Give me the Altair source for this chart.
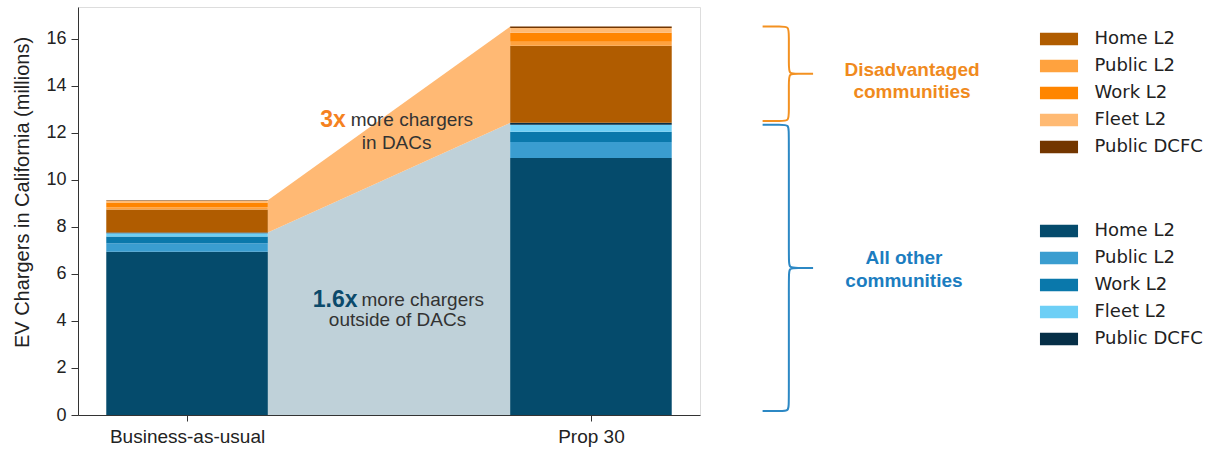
import altair as alt
import pandas as pd

# ---------------- data ----------------
scenarios = ["Business-as-usual", "Prop 30"]
types = ["Home L2", "Public L2", "Work L2", "Fleet L2", "Public DCFC"]

other_bau = [6.95, 0.36, 0.28, 0.14, 0.03]
other_p30 = [10.94, 0.68, 0.43, 0.30, 0.08]
dac_bau = [0.98, 0.10, 0.20, 0.08, 0.02]
dac_p30 = [3.28, 0.17, 0.38, 0.21, 0.06]

other_colors = ["#054b6c", "#3a9dd0", "#0a78ab", "#6dcff6", "#062f47"]
dac_colors = ["#b05c00", "#ffa23e", "#ff8500", "#ffba73", "#733600"]

BAR_W = 0.4

# ---------------- tables ----------------
other_rows, dac_rows, totals = [], [], []
for i, (ov, dv) in enumerate([(other_bau, dac_bau), (other_p30, dac_p30)]):
    cum = 0.0
    for t, v in zip(types, ov):
        other_rows.append({"pos": i, "x0": i - BAR_W / 2, "x1": i + BAR_W / 2,
                           "oth_type": t, "lo": cum, "hi": cum + v})
        cum += v
    other_total = cum
    for t, v in zip(types, dv):
        dac_rows.append({"pos": i, "x0": i - BAR_W / 2, "x1": i + BAR_W / 2,
                         "dac_type": t, "lo": cum, "hi": cum + v})
        cum += v
    totals.append((other_total, cum))

other_df = pd.DataFrame(other_rows)
dac_df = pd.DataFrame(dac_rows)

conn = pd.DataFrame({
    "x": [BAR_W / 2, 1 - BAR_W / 2],
    "zero": [0.0, 0.0],
    "oth": [totals[0][0], totals[1][0]],
    "tot": [totals[0][1], totals[1][1]],
})

# braces (right of the plot), spanning the Prop 30 bar groups
XL, XV, XT, HX, RY = 1.425, 1.49, 1.55, 0.02, 0.34


def brace(y_top, y_bot, name):
    ym = (y_top + y_bot) / 2
    pts = [(XL, y_top), (XL, y_top), (XV - HX, y_top), (XV, y_top), (XV, y_top - RY),
           (XV, ym + RY), (XV, ym), (XV + HX, ym), (XT, ym), (XT, ym), (XT, ym),
           (XV + HX, ym), (XV, ym), (XV, ym - RY), (XV, y_bot + RY), (XV, y_bot),
           (XV - HX, y_bot), (XL, y_bot), (XL, y_bot)]
    return pd.DataFrame({"x": [p[0] for p in pts], "y": [p[1] for p in pts],
                         "i": list(range(len(pts))), "g": name})


p30_other, p30_total = totals[1]
brace_dac = brace(p30_total, p30_other + 0.08, "dac")
brace_oth = brace(p30_other - 0.08, 0.17, "oth")

# ---------------- scales / axes ----------------
xscale = alt.Scale(domain=[-0.27, 1.27], nice=False, zero=False)
yscale = alt.Scale(domain=[0, 17.36], nice=False, zero=False)

AX_FONT = "Liberation Sans"
x_axis = alt.Axis(values=[0, 1], title=None, grid=False,
                  labelExpr="datum.value == 0 ? 'Business-as-usual' : 'Prop 30'",
                  tickSize=6, labelPadding=6, labelFontSize=19, labelFont=AX_FONT,
                  labelColor="#222", domainColor="#333", tickColor="#333",
                  labelOverlap=False, labelFlush=False)
y_axis = alt.Axis(values=list(range(0, 17, 2)), title="EV Chargers in California (millions)",
                  grid=False, tickSize=7, labelPadding=5, labelFontSize=18, labelFont=AX_FONT,
                  labelColor="#222", titleFont=AX_FONT, titleFontSize=20,
                  titleFontWeight="normal", titleColor="#222", domainColor="#333",
                  tickColor="#333", titleX=-56, titleY=185, titleAngle=-90,
                  titleAlign="center", titleBaseline="middle")

PATH = "M-1.41,-0.46L1.41,-0.46L1.41,0.46L-1.41,0.46Z"


def legend(ly):
    return alt.Legend(title=None, orient="none", legendX=967.5, legendY=ly,
                      symbolType=PATH, symbolSize=729, symbolStrokeWidth=0,
                      symbolOpacity=1, labelFont="DejaVu Sans", labelFontSize=18,
                      labelColor="#222", labelOffset=22, rowPadding=4, padding=0)


# ---------------- layers ----------------
area_oth = alt.Chart(conn).mark_area(color="#bfd1d9", opacity=1).encode(
    x=alt.X("x:Q", scale=xscale, axis=x_axis),
    y=alt.Y("zero:Q", scale=yscale, axis=y_axis, stack=None),
    y2="oth:Q",
)
area_dac = alt.Chart(conn).mark_area(color="#ffb974", opacity=1).encode(
    x=alt.X("x:Q", scale=xscale, axis=x_axis),
    y=alt.Y("oth:Q", scale=yscale, axis=y_axis, stack=None),
    y2="tot:Q",
)

bars_oth = alt.Chart(other_df).mark_rect().encode(
    x=alt.X("x0:Q", scale=xscale, axis=x_axis),
    x2="x1:Q",
    y=alt.Y("lo:Q", scale=yscale, axis=y_axis, stack=None),
    y2="hi:Q",
    color=alt.Color("oth_type:N", scale=alt.Scale(domain=types, range=other_colors),
                    legend=legend(210.5)),
)
bars_dac = alt.Chart(dac_df).mark_rect().encode(
    x=alt.X("x0:Q", scale=xscale, axis=x_axis),
    x2="x1:Q",
    y=alt.Y("lo:Q", scale=yscale, axis=y_axis, stack=None),
    y2="hi:Q",
    color=alt.Color("dac_type:N", scale=alt.Scale(domain=types, range=dac_colors),
                    legend=legend(18.5)),
)

# annotations
bold_df = pd.DataFrame({"x": [0.393, 0.422], "y": [12.55, 4.89], "t": ["3x", "1.6x"],
                        "c": ["#f5821f", "#0b4a6b"]})
left_df = pd.DataFrame({"x": [0.405, 0.432], "y": [12.55, 4.89],
                        "t": ["more chargers", "more chargers"]})
center_df = pd.DataFrame({"x": [0.519, 0.521], "y": [11.57, 4.04],
                          "t": ["in DACs", "outside of DACs"]})
grp_df = pd.DataFrame({"x": [1.795, 1.795, 1.775, 1.775], "y": [14.68, 13.74, 6.68, 5.70],
                       "t": ["Disadvantaged", "communities", "All other", "communities"],
                       "c": ["#f08a1d", "#f08a1d", "#1b7dc0", "#1b7dc0"]})


def txt(df, **kw):
    return alt.Chart(df).mark_text(baseline="middle", font=AX_FONT, **kw).encode(
        x=alt.X("x:Q", scale=xscale, axis=x_axis),
        y=alt.Y("y:Q", scale=yscale, axis=y_axis),
        text="t:N",
    )


t_bold = txt(bold_df, align="right", fontSize=23, fontWeight="bold").encode(
    color=alt.Color("c:N", scale=None))
t_left = txt(left_df, align="left", fontSize=19, color="#333")
t_center = txt(center_df, align="center", fontSize=19, color="#333")
t_grp = txt(grp_df, align="center", fontSize=19, fontWeight="bold").encode(
    color=alt.Color("c:N", scale=None))


def brace_layer(df, col):
    return alt.Chart(df).mark_line(color=col, strokeWidth=2, interpolate="basis").encode(
        x=alt.X("x:Q", scale=xscale, axis=x_axis),
        y=alt.Y("y:Q", scale=yscale, axis=y_axis),
        order="i:Q",
    )


chart = alt.layer(
    area_oth, area_dac, bars_oth, bars_dac,
    t_bold, t_left, t_center,
    brace_layer(brace_dac, "#f39121"), brace_layer(brace_oth, "#2c88c4"),
    t_grp,
).resolve_scale(color="independent").properties(
    width=622, height=408,
    padding={"left": 78, "top": 7, "right": 518, "bottom": 38},
    autosize=alt.AutoSizeParams(type="none"),
).configure_view(stroke=None).configure(background="white")

chart.save("out.html", embed_options={"renderer": "svg", "actions": False})
